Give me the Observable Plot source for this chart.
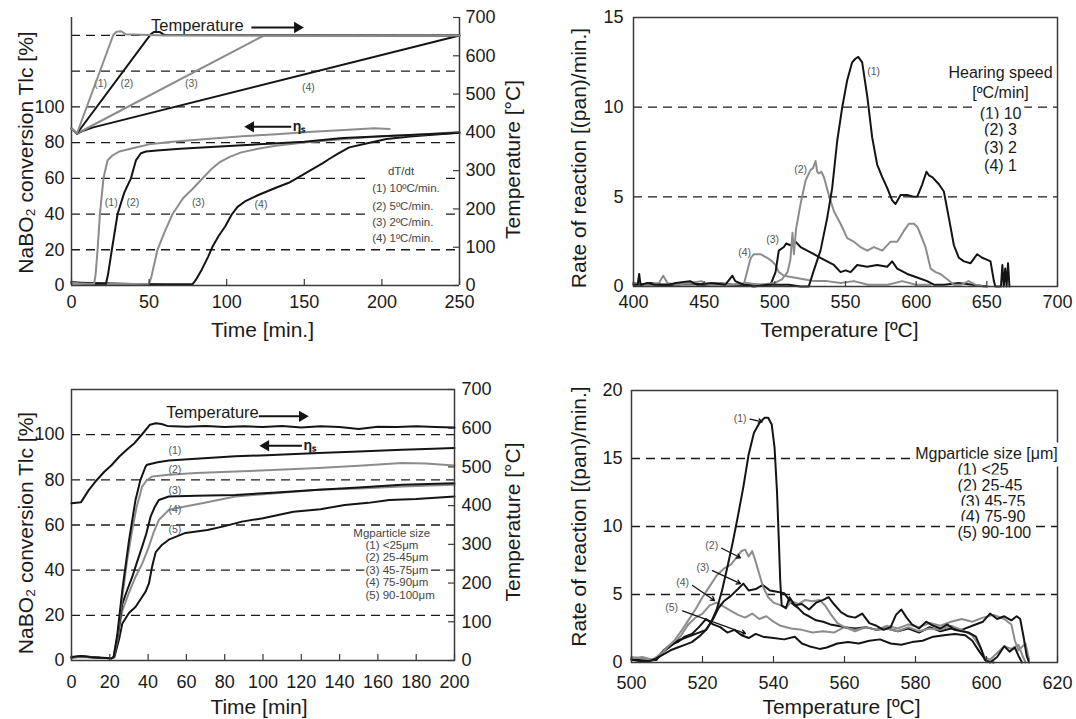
<!DOCTYPE html>
<html><head><meta charset="utf-8">
<script src="https://cdn.jsdelivr.net/npm/d3@7"></script>
<script src="https://cdn.jsdelivr.net/npm/@observablehq/plot@0.6"></script>
<style>
body{margin:0;background:#fff;}
#wrap{position:relative;width:1076px;height:719px;overflow:hidden;background:#fff;}
</style></head><body><div id="wrap"></div>
<script>
// ---------------- DATA ----------------
// Panel 1 (top-left): NaBO2 conversion [%] vs time [min], temperature [°C] on right axis
const p1XTicks = [0, 50, 100, 150, 200, 250];
const p1LeftTicks = [0, 20, 40, 60, 80, 100];
const p1RightTicks = [0, 100, 200, 300, 400, 500, 600, 700];
const p1Grid = [20, 40, 60, 80, 100, 120, 140];
const p1Conv10 = [[0,1.5],[5,1.2],[10,1.0],[14.6,1.0],[15.5,6],[16.8,20],[18.3,40],[20.6,60],[23.2,70],[26,72.5],[30.8,75],[40,77],[50,79],[65,80.5],[87,82],[110,83.5],[132,84.7],[155,86],[176,87],[195,88],[205,87.6]];
const p1Conv5 = [[0,1.8],[8,1.3],[15,1.0],[22.2,1.0],[23.5,6],[26,20],[29.7,40],[34,52],[38.3,60],[41.5,70],[44.7,74],[48,75],[55,75.5],[70,76.5],[90,77.5],[110,78.5],[130,79.5],[150,80.5],[175,82.5],[200,83.5],[225,84.5],[250,85.5]];
const p1Conv2 = [[0,1.0],[20,0.8],[40,0.8],[50,1.0],[51.5,5],[55.4,20],[60,30],[65.1,40],[72,49],[78,54],[84.5,60],[90,65],[95.2,68.9],[102,72],[109.4,74.5],[120,76.5],[131.6,78.2],[150,80],[176,82],[200,83.5],[220,84.3],[250,85.9]];
const p1Conv1 = [[0,1.7],[20,1.2],[40,0.9],[60,0.7],[78,0.8],[80,3],[84,9],[88,16],[91,22],[95,28],[99,33],[103.4,40],[107,44],[112.4,47.4],[120,50.5],[131.7,54.7],[140,57.5],[147,61],[155,65],[162,68.5],[166,70.8],[172,74],[179,77.3],[190,79.5],[203,82],[220,83.5],[235,84.5],[250,85.5]];
const p1Temp10 = [[0,410],[3.5,397],[27,655],[29,663],[32,664],[35,656],[60,653],[250,653]];
const p1Temp5 = [[0,410],[3.5,397],[51,656],[53,662],[57,662],[60,654],[250,653]];
const p1Temp2 = [[0,410],[3.5,397],[124,653],[250,653]];
const p1Temp1 = [[0,410],[3.5,396],[8,405],[14,413],[250,653]];
const p1CurveLabels = [["(1)",18.8,113],["(2)",35.7,113],["(3)",77.2,113],["(4)",152.6,110.8],["(1)",25.6,46.3],["(2)",39.5,46.3],["(3)",81.7,46.3],["(4)",122.1,45.2]];
const p1LegendTitle = [["dT/dt",212.3,63.7]];
const p1LegendLines = [["(1) 10ºC/min.",193.8,54.2],["(2) 5ºC/min.",193.8,44.6],["(3) 2ºC/min.",193.8,35.3],["(4) 1ºC/min.",193.8,26.2]];
const p1LegendBox = [[192.6,238.4,22.8,68.1]];
const p1TempNote = [["Temperature",81.1,145.3]];
const p1TempArrow = [[115.9,144.4,145.5,144.4]];
const p1EtaArrow = [[141.6,88.8,115.5,88.8]];
const p1EtaNote = [["ηₛ",142.5,88.8]];

// Panel 2 (top-right): rate of reaction vs temperature, heating speed
const p2XTicks = [400, 450, 500, 550, 600, 650, 700];
const p2YTicks = [0, 5, 10, 15];
const p2Grid = [5, 10];
const p2Rate10 = [[400,0.1],[403,0.1],[404,0.7],[405,0.1],[410,0.2],[415,0.1],[425,0.1],[430,0.2],[440,0.3],[445,0.1],[455,0.2],[465,0.1],[470,0.6],[472,0.3],[478,0.1],[485,0],[495,0.1],[505,0.1],[510,0.1],[518,0],[524,0],[527.6,0.9],[532.3,2.0],[537,3.8],[540.6,5.5],[544.1,8.1],[547.7,10.0],[551.2,11.5],[554.7,12.5],[557,12.7],[559,12.8],[561.8,12.5],[565.4,10.6],[568.9,8.3],[572.4,6.8],[576,6.1],[579.5,5.5],[583,4.8],[585.4,4.6],[589,5.1],[593.7,5.1],[598,5.0],[600.7,5.0],[604.3,5.7],[607.3,6.4],[609,6.2],[611.4,6.1],[616.1,5.7],[619.6,5.3],[623.2,3.8],[626.7,2.3],[630.2,1.6],[633.8,1.4],[638.5,1.3],[643.2,1.8],[646.7,1.6],[650,1.5],[652.6,1.4],[655,0.3],[656,0],[660,0],[661,1.2],[662,0],[663,1.0],[664,0],[665,1.3],[666,0]];
const p2Rate3 = [[400,0.2],[410,0.1],[418,0.2],[421,0.6],[424,0.2],[430,0.1],[440,0.2],[448,0.3],[452,0.1],[460,0.2],[470,0.1],[480,0.2],[490,0.1],[500,0.2],[505,0.4],[509,0.8],[511,1.5],[512.5,3.0],[513.5,1.8],[515,3.2],[518.2,4.6],[521.7,5.9],[525.3,6.5],[527,6.6],[528.8,7.0],[530,6.4],[531.2,6.3],[533,6.4],[534.7,6.1],[538.2,5.1],[541.8,4.2],[546.5,3.5],[551.2,2.7],[555.9,2.5],[560.6,2.2],[565.4,2.0],[570.1,2.2],[576,2.0],[581.9,2.5],[586.6,2.5],[591.3,3.1],[594.8,3.5],[598.4,3.5],[601,3.3],[603.1,2.9],[606.6,2.2],[610.2,1.0],[613.7,0.8],[617.2,0.7],[622,0.4],[626.7,0.1],[632,0.1],[637,0.3],[642,0.1],[648,0]];
const p2Rate2 = [[400,0.2],[405,0.1],[412,0.2],[420,0.1],[430,0.1],[440,0.2],[450,0.1],[460,0.2],[470,0.1],[480,0.1],[490,0.1],[497,0.1],[500.5,0.8],[502.8,2.0],[506.4,2.2],[508,2.4],[511,2.3],[514.6,2.5],[518.2,2.2],[522.9,2.0],[527.6,1.8],[532.3,1.6],[537,1.4],[541.8,1.2],[546.5,0.8],[550,0.9],[553.6,0.8],[558.3,1.2],[565.4,1.1],[572.4,1.2],[579.5,1.1],[583,1.4],[586.6,1.0],[593.7,0.7],[600.7,0.5],[607.8,0.3],[612.5,0.1],[620,0.1],[630,0.2],[640,0.1],[650,0]];
const p2Rate1 = [[400,0.1],[420,0.1],[440,0.1],[460,0.1],[470,0.1],[478,0.1],[481.6,1.2],[483,1.6],[485.2,1.8],[489.9,1.8],[494.6,1.6],[498.1,1.4],[500.5,1.2],[502.8,0.8],[506.4,0.6],[513.5,0.5],[520.5,0.4],[527.6,0.3],[537,0.3],[546.5,0.2],[556,0.3],[566,0.1],[580,0.1],[590,0.3],[600,0.1],[610,0.1]];
const p2CurveLabels = [["(1)",569.9,12.0],["(2)",518.2,6.5],["(3)",498.4,2.64],["(4)",478.6,1.9]];
const p2Legend = [["Hearing speed",659.7,11.89],["[ºC/min]",659.7,10.77],["(1) 10",659.7,9.65],["(2) 3",659.7,8.71],["(3) 2",659.7,7.74],["(4) 1",659.7,6.70]];

// Panel 3 (bottom-left): conversion vs time, Mg particle size
const p3XTicks = [0, 20, 40, 60, 80, 100, 120, 140, 160, 180, 200];
const p3LeftTicks = [0, 20, 40, 60, 80, 100];
const p3RightTicks = [0, 100, 200, 300, 400, 500, 600, 700];
const p3Grid = [20, 40, 60, 80, 100];
const p3Temp = [[0,406],[5,409],[9,440],[13,465],[17,487],[21,505],[25,527],[29,545],[33,562],[37,585],[41,609],[44,613],[47,611],[50,606],[60,604],[70,606],[80,603],[90,605],[100,603],[110,606],[120,602],[130,605],[140,603],[150,598],[160,604],[170,603],[180,605],[190,603],[200,602]];
const p3Conv1 = [[0,1.5],[5,2],[10,1.5],[15,1.2],[21,1],[22,1.5],[24,12],[26.5,31],[30,53],[33.4,71],[36,80],[38.7,85.9],[39.5,86.7],[45,87.8],[50.8,88.6],[65,89.3],[85.6,90.4],[105,91],[129,91.9],[150,92.6],[172.6,93.3],[185,93.6],[200,94.1]];
const p3Conv2 = [[0,1.2],[5,1.8],[10,1.5],[15,1.3],[21,1],[22,1.5],[24,11],[26.5,28],[29,44],[31.7,57.8],[34,68],[36.9,77],[39,79.5],[42,81.5],[50.8,82.2],[65,83],[85.6,83.7],[105,84.3],[129,85.2],[150,86.2],[172.6,87.4],[185,87.2],[200,86.4]];
const p3Conv3 = [[0,1.3],[5,1.8],[10,1.4],[15,1.2],[21,1],[22,1.5],[24,10],[26.5,25],[29,31],[31.7,37],[34,43],[36.9,50.4],[39,56],[41.3,63.7],[43.5,68],[45.6,71.1],[50.8,72.6],[65,73],[85.6,73.3],[105,74.3],[129,75.6],[150,76.6],[172.6,77.8],[200,78.5]];
const p3Conv4 = [[0,1.2],[5,1.6],[10,1.3],[15,1.1],[21,1],[22,1.5],[24,9],[26.5,22],[30,30],[33.4,37],[37,43],[40.4,50.4],[43,57],[45.6,62.2],[50.8,66.7],[58,68],[68.2,69.6],[85.6,72.6],[105,74],[129,75.6],[150,76.2],[172.6,77],[200,77.8]];
const p3Conv5 = [[0,1.4],[5,1.9],[10,1.5],[15,1.2],[21,1],[22.4,1.5],[25,10],[26.5,16.3],[30,21],[33.4,23.7],[36,27],[38.7,30.5],[40.4,34],[42.2,42],[44,48],[47,51],[50.8,53.5],[59.5,56.5],[71,57.8],[80,59.5],[89,61.5],[100,63],[115.9,65.9],[130,67],[142.7,68.9],[155,69.8],[166,71.1],[180,71.5],[200,72.6]];
const p3CurveLabels = [["(1)",54,93.0],["(2)",54,84.4],["(3)",54,75.2],["(4)",54,67.0],["(5)",54,57.8]];
const p3LegendTitle = [["Mgparticle size",167.2,56.3]];
const p3LegendLines = [["(1) <25μm",153.5,50.8],["(2) 25-45μm",153.5,45.5],["(3) 45-75μm",153.5,40.0],["(4) 75-90μm",153.5,34.5],["(5) 90-100μm",153.5,28.9]];
const p3TempNote = [["Temperature",73.6,109.6]];
const p3TempArrow = [[97.8,108.1,120.5,108.1]];
const p3EtaArrow = [[120.3,95.1,101.5,95.1]];
const p3EtaNote = [["ηₛ",121.2,95.1]];

// Panel 4 (bottom-right): rate of reaction vs temperature, Mg particle size
const p4XTicks = [500, 520, 540, 560, 580, 600, 620];
const p4YTicks = [0, 5, 10, 15, 20];
const p4Grid = [5, 10, 15];
const p4Rate1 = [[500,0.2],[503,0.1],[505,0.1],[507,0.3],[509,0.6],[511,0.9],[513,1.1],[515,1.3],[517,1.5],[519,1.9],[521,2.4],[522.5,3.0],[524,3.9],[525.5,5.3],[527,7.0],[528.5,8.8],[530,10.8],[531.5,12.9],[533,15.3],[534.5,16.9],[536,17.6],[537.5,18.0],[538.5,18.0],[539.5,17.5],[540.3,15.8],[541,12.5],[541.5,9],[541.9,6.0],[542.3,4.2],[543.5,4.0],[544.5,4.8],[546,4.2],[548,4.3],[550,3.9],[552,4.4],[554,4.6],[555.5,4.8],[557,4.3],[559,3.7],[561,3.4],[563,3.3],[565,3.6],[567,2.9],[569,2.7],[571,2.4],[573,2.6],[574.5,3.5],[576,3.9],[577.5,3.3],[579,2.8],[581,2.5],[583,3.0],[585,2.7],[587,2.5],[589,2.8],[591,2.4],[593,2.3],[595,2.2],[597,1.9],[598.5,1.0],[599.5,0.2],[601,0.0],[603,0.4],[605,1.2],[606.5,0.8],[608,1.1],[609,0.5],[610,0]];
const p4Rate2 = [[500,0.4],[503,0.3],[506,0.2],[508,0.5],[510,1.1],[512,1.6],[514,2.3],[516,3.1],[518,3.9],[520,4.8],[522,5.6],[524,6.4],[526,6.9],[528,7.2],[529.5,7.7],[531,8.2],[532,8.3],[533,7.8],[534,8.2],[535,7.4],[536,6.5],[537,5.6],[538.5,4.8],[540,4.4],[542,4.2],[543.5,4.0],[545,4.5],[547,4.3],[549,4.6],[551,4.5],[553,4.6],[554.5,4.2],[556,3.6],[558,2.9],[560,2.6],[563,2.4],[566,2.6],[569,2.4],[572,2.5],[575,2.3],[578,2.6],[581,2.3],[584,2.5],[587,2.4],[590,2.7],[593,2.4],[596,2.0],[598,1.2],[599.5,0.4],[601,0.2],[603,0.7],[605,1.2],[607,1.0],[609,1.3],[610,0.6],[611,0]];
const p4Rate3 = [[500,0.2],[504,0.1],[507,0.2],[509,0.8],[511,1.2],[513,1.6],[515,1.8],[517,2.0],[519,2.2],[521,2.4],[523,3.2],[524.5,4.0],[526,4.5],[528,4.9],[530,5.4],[531.5,5.8],[533,5.3],[535,5.4],[537,5.7],[539,5.3],[541,5.2],[543,5.1],[545,4.4],[547,4.0],[548.5,3.6],[550,3.4],[552,3.1],[554,3.0],[556,2.8],[558,2.7],[560,2.6],[563,2.5],[566,2.6],[569,2.4],[572,2.5],[575,2.3],[578,2.5],[581,2.2],[584,2.6],[587,2.3],[590,2.5],[593,2.4],[596,2.7],[599,3.0],[601,3.6],[603,3.2],[605,3.4],[607,3.1],[608.5,3.4],[609.5,3.2],[610.5,1.8],[611.3,0.5],[612,0]];
const p4Rate4 = [[500,0.3],[503,0.4],[506,0.2],[508,0.6],[510,1.1],[512,1.4],[514,2.0],[516,2.8],[518,3.3],[520,3.6],[522,4.2],[524,4.4],[526,4.1],[528,3.8],[530,3.5],[532,3.3],[534,3.6],[536,3.2],[538,3.4],[540,3.0],[542,2.7],[545,2.5],[548,2.4],[551,2.2],[554,2.3],[557,2.2],[560,2.6],[563,2.3],[566,2.6],[569,2.4],[572,2.7],[575,2.5],[578,2.8],[581,2.6],[584,2.9],[587,2.7],[590,3.0],[593,3.2],[596,3.0],[599,3.3],[602,3.5],[605,3.2],[607,2.8],[608,1.6],[609,0.9],[611,1.4],[612,0.2]];
const p4Rate5 = [[500,0.3],[504,0.2],[507,0.2],[509,0.9],[511,1.3],[513,1.5],[515,1.9],[517,2.1],[519,2.6],[521,3.2],[523,2.8],[525,2.6],[527,2.2],[529,2.4],[531,2.0],[533,1.8],[535,2.1],[537,1.9],[540,1.8],[543,1.7],[546,1.9],[548,1.4],[550,1.2],[553,1.0],[555,1.1],[558,1.4],[561,1.5],[564,1.4],[567,1.6],[570,1.7],[573,1.4],[576,1.3],[579,1.5],[582,1.6],[585,1.9],[588,2.0],[591,2.1],[594,2.0],[596,1.6],[598,0.8],[600,0.1],[602,0]];
const p4CurveLabels = [["(1)",530.6,17.9],["(2)",522.6,8.6],["(3)",520.1,7.0],["(4)",514.4,5.9],["(5)",511.3,4.04]];
const p4Arrows = [[533.4,17.9,536.8,17.7],[525.4,8.4,530.7,7.7],[522.8,6.76,530.7,5.8],[517.2,5.66,523.4,4.56],[514.4,3.8,532.1,2.13]];
const p4Legend = [["Mgparticle size [μm]",600,15.37],["(1) <25",599,14.2],["(2) 25-45",601,13.0],["(3) 45-75",601.8,11.8],["(4) 75-90",601.8,10.7],["(5) 90-100",602.2,9.5]];

// ---------------- DRAWING ----------------
const FONT = '"Liberation Sans", Arial, Helvetica, sans-serif';
const BLACK = "#141414", GRAY = "#8c8c8c", AX = "#3a3a3a";
const wrap = document.getElementById("wrap");
const baseStyle = {fontFamily: FONT, fontSize: "18px", color: "#1a1a1a", background: "transparent", overflow: "visible"};
const dash = {stroke: "#1a1a1a", strokeWidth: 1.3, strokeDasharray: "9,6"};
const X = d => d[0], Y = d => d[1];

function mount(svg, left, top) {
  svg.style.position = "absolute";
  svg.style.left = left + "px";
  svg.style.top = top + "px";
  svg.style.maxWidth = "none";
  wrap.appendChild(svg);
}
const line = (data, color) => Plot.line(data, {x: X, y: Y, stroke: color, strokeWidth: 2, strokeLinejoin: "round"});
const labels = (data, opts) => Plot.text(data, {x: d => d[1], y: d => d[2], text: d => d[0], ...opts});
const filledArrow = (data, dir) => [
  Plot.link(data, {x1: d => d[0], y1: d => d[1], x2: d => d[2], y2: d => d[3], stroke: BLACK, strokeWidth: 2}),
  Plot.dot(data, {x: d => d[2], y: d => d[3], symbol: "triangle", rotate: dir, r: 4.2, fill: BLACK, stroke: "none"})
];
const frameLabel = (txt, anchor, dx, dy, rotate) =>
  Plot.text([txt], {text: d => d, frameAnchor: anchor, dx, dy, rotate, textAnchor: "middle", lineAnchor: "middle", fontSize: 21, fill: "#1a1a1a"});
const halo = {stroke: "white", strokeWidth: 9, paintOrder: "stroke", strokeLinejoin: "round"};

// ---- Panel 1 ----
{
  const W = 540, H = 360, m = {marginLeft: 71, marginRight: 81, marginTop: 17, marginBottom: 75};
  const fh = H - m.marginTop - m.marginBottom, fw = W - m.marginLeft - m.marginRight;
  const a = Plot.plot({
    width: W, height: H, ...m, style: baseStyle,
    x: {domain: [0, 250]}, y: {domain: [0, 150]},
    marks: [
      Plot.ruleY(p1Grid, dash),
      Plot.rect(p1LegendBox, {x1: d => d[0], x2: d => d[1], y1: d => d[2], y2: d => d[3], fill: "white"}),
      line(p1Conv1, BLACK), line(p1Conv2, GRAY), line(p1Conv5, BLACK), line(p1Conv10, GRAY),
      Plot.ruleY([0], {stroke: AX, strokeWidth: 1.5}),
      Plot.ruleX([0, 250], {stroke: AX, strokeWidth: 1.5}),
      Plot.ruleX(p1XTicks, {stroke: AX, strokeWidth: 1.2, insetTop: fh - 6}),
      Plot.axisX({ticks: p1XTicks, tickSize: 0, tickPadding: 10, label: null}),
      Plot.axisY({ticks: p1LeftTicks, tickSize: 0, tickPadding: 7, label: null}),
      labels(p1CurveLabels, {fontSize: 10.5, fill: "#555"}),
      labels(p1LegendTitle, {fontSize: 11.5, fill: "#444"}),
      labels(p1LegendLines, {fontSize: 11.5, fill: "#444", textAnchor: "start"}),
      labels(p1TempNote, {fontSize: 16.5, fill: "#1a1a1a"}),
      ...filledArrow(p1TempArrow, 90),
      ...filledArrow(p1EtaArrow, -90),
      labels(p1EtaNote, {fontSize: 14, fontWeight: "bold", textAnchor: "start", fill: "#1a1a1a"}),
      frameLabel("NaBO₂ conversion Tlc [%]", "left", -45, 1, -90),
      frameLabel("Time [min.]", "bottom", -3, 45, 0)
    ]
  });
  mount(a, 0, 0);
  const b = Plot.plot({
    width: W, height: H, ...m, style: baseStyle,
    x: {domain: [0, 250], axis: null}, y: {domain: [0, 700]},
    marks: [
      line(p1Temp1, BLACK), line(p1Temp2, GRAY), line(p1Temp5, BLACK), line(p1Temp10, GRAY),
      Plot.ruleY(p1RightTicks, {stroke: AX, strokeWidth: 1.2, insetLeft: fw - 6}),
      Plot.axisY({anchor: "right", ticks: p1RightTicks, tickSize: 0, tickPadding: 6, label: null}),
      frameLabel("Temperature [°C]", "right", 54, 8, -90)
    ]
  });
  mount(b, 0, 0);
}

// ---- Panel 2 ----
{
  const W = 536, H = 360, m = {marginLeft: 93, marginRight: 19, marginTop: 17, marginBottom: 74};
  const fh = H - m.marginTop - m.marginBottom;
  const p = Plot.plot({
    width: W, height: H, ...m, style: baseStyle,
    x: {domain: [400, 700]}, y: {domain: [0, 15]},
    marks: [
      Plot.ruleY(p2Grid, dash),
      line(p2Rate1, GRAY), line(p2Rate2, BLACK), line(p2Rate3, GRAY), line(p2Rate10, BLACK),
      Plot.frame({stroke: AX, strokeWidth: 1.5}),
      Plot.ruleX(p2XTicks, {stroke: AX, strokeWidth: 1.2, insetTop: fh - 5}),
      Plot.axisX({ticks: p2XTicks, tickSize: 0, tickPadding: 9, label: null}),
      Plot.axisY({ticks: p2YTicks, tickSize: 0, tickPadding: 10, label: null}),
      labels(p2CurveLabels, {fontSize: 10.5, fill: "#555"}),
      labels(p2Legend, {fontSize: 16, fill: "#1a1a1a", ...halo}),
      frameLabel("Rate of reaction [(pan)/min.]", "left", -54, 6, -90),
      frameLabel("Temperature [ºC]", "bottom", -6, 44, 0)
    ]
  });
  mount(p, 540, 0);
}

// ---- Panel 3 ----
{
  const W = 540, H = 349, m = {marginLeft: 71, marginRight: 86, marginTop: 19, marginBottom: 59};
  const fh = H - m.marginTop - m.marginBottom, fw = W - m.marginLeft - m.marginRight;
  const a = Plot.plot({
    width: W, height: H, ...m, style: baseStyle,
    x: {domain: [0, 200]}, y: {domain: [0, 120]},
    marks: [
      Plot.ruleY(p3Grid, dash),
      line(p3Conv5, BLACK), line(p3Conv4, GRAY), line(p3Conv3, BLACK), line(p3Conv2, GRAY), line(p3Conv1, BLACK),
      Plot.frame({stroke: AX, strokeWidth: 1.5}),
      Plot.ruleX(p3XTicks, {stroke: AX, strokeWidth: 1.2, insetTop: fh - 6}),
      Plot.axisX({ticks: p3XTicks, tickSize: 0, tickPadding: 15, label: null}),
      Plot.axisY({ticks: p3LeftTicks, tickSize: 0, tickPadding: 7, label: null}),
      labels(p3CurveLabels, {fontSize: 10.5, fill: "#555"}),
      labels(p3LegendTitle, {fontSize: 11.5, fill: "#444", stroke: "white", strokeWidth: 4, paintOrder: "stroke"}),
      labels(p3LegendLines, {fontSize: 11.5, fill: "#444", textAnchor: "start", stroke: "white", strokeWidth: 4, paintOrder: "stroke"}),
      labels(p3TempNote, {fontSize: 16.5, fill: "#1a1a1a"}),
      ...filledArrow(p3TempArrow, 90),
      ...filledArrow(p3EtaArrow, -90),
      labels(p3EtaNote, {fontSize: 14, fontWeight: "bold", textAnchor: "start", fill: "#1a1a1a"}),
      frameLabel("NaBO₂ conversion Tlc [%]", "left", -45, 8, -90),
      frameLabel("Time [min]", "bottom", -4, 47, 0)
    ]
  });
  mount(a, 0, 370);
  const b = Plot.plot({
    width: W, height: H, ...m, style: baseStyle,
    x: {domain: [0, 200], axis: null}, y: {domain: [0, 700]},
    marks: [
      line(p3Temp, BLACK),
      Plot.ruleY(p3RightTicks, {stroke: AX, strokeWidth: 1.2, insetLeft: fw - 6}),
      Plot.axisY({anchor: "right", ticks: p3RightTicks, tickSize: 0, tickPadding: 7, label: null}),
      frameLabel("Temperature [°C]", "right", 59, -3, -90)
    ]
  });
  mount(b, 0, 370);
}

// ---- Panel 4 ----
{
  const W = 536, H = 349, m = {marginLeft: 91, marginRight: 19, marginTop: 20, marginBottom: 57};
  const fh = H - m.marginTop - m.marginBottom;
  const p = Plot.plot({
    width: W, height: H, ...m, style: baseStyle,
    x: {domain: [500, 620]}, y: {domain: [0, 20]},
    marks: [
      Plot.ruleY(p4Grid, dash),
      line(p4Rate5, BLACK), line(p4Rate4, GRAY), line(p4Rate3, BLACK), line(p4Rate2, GRAY), line(p4Rate1, BLACK),
      Plot.frame({stroke: AX, strokeWidth: 1.5}),
      Plot.ruleX(p4XTicks, {stroke: AX, strokeWidth: 1.2, insetTop: fh - 6}),
      Plot.axisX({ticks: p4XTicks, tickSize: 0, tickPadding: 14, label: null}),
      Plot.axisY({ticks: p4YTicks, tickSize: 0, tickPadding: 9, label: null}),
      Plot.arrow(p4Arrows, {x1: d => d[0], y1: d => d[1], x2: d => d[2], y2: d => d[3], stroke: BLACK, strokeWidth: 1.3, headLength: 5}),
      labels(p4CurveLabels, {fontSize: 10.5, fill: "#555"}),
      labels(p4Legend, {fontSize: 16, fill: "#1a1a1a", ...halo}),
      frameLabel("Rate of reaction [(pan)/min.]", "left", -52, -10, -90),
      frameLabel("Temperature [ºC]", "bottom", -3, 45, 0)
    ]
  });
  mount(p, 540, 370);
}
</script></body></html>
